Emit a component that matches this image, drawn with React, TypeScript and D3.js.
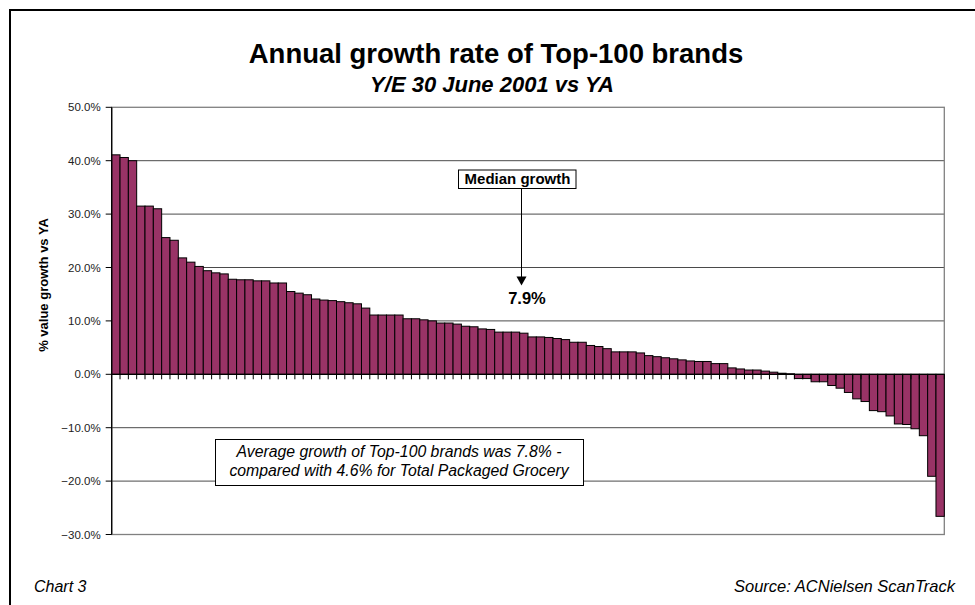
import React from "react";
import * as d3 from "d3";

const brandGrowth: number[] = [
  41.1, 40.6, 40.0, 31.5, 31.5, 31.0, 25.6, 25.1, 21.8, 21.0,
  20.2, 19.4, 19.0, 18.8, 17.8, 17.7, 17.7, 17.5, 17.5, 17.1,
  17.1, 15.5, 15.2, 14.9, 14.1, 13.9, 13.8, 13.6, 13.4, 13.2,
  12.4, 11.1, 11.1, 11.1, 11.1, 10.4, 10.4, 10.2, 10.0, 9.6,
  9.6, 9.4, 9.0, 8.9, 8.5, 8.4, 7.9, 7.9, 7.9, 7.7,
  7.0, 7.0, 6.9, 6.7, 6.5, 6.0, 6.0, 5.4, 5.2, 4.8,
  4.2, 4.2, 4.2, 4.0, 3.5, 3.3, 3.1, 2.9, 2.7, 2.5,
  2.4, 2.4, 2.0, 2.0, 1.2, 1.0, 0.8, 0.8, 0.6, 0.4,
  0.2, 0.1, -0.8, -0.8, -1.4, -1.4, -2.1, -2.6, -3.4, -4.6,
  -5.1, -6.8, -7.0, -7.8, -9.3, -9.4, -10.2, -11.5, -19.1, -26.6,
];
const brandIds: number[] = brandGrowth.map((_, i) => i + 1);
const yTicks: number[] = [-30, -20, -10, 0, 10, 20, 30, 40, 50];

const titleText = "Annual growth rate of Top-100 brands";
const subtitleText = "Y/E 30 June 2001 vs YA";
const yAxisLabel = "% value growth vs YA";
const medianLabel = "Median growth";
const medianValue = "7.9%";
const avgLine1 = "Average growth of Top-100 brands was 7.8% -";
const avgLine2 = "compared with 4.6% for Total Packaged Grocery";
const chartNo = "Chart 3";
const sourceText = "Source: ACNielsen ScanTrack";

const FONT = "'Liberation Sans', Arial, Helvetica, sans-serif";

export default function App() {
  const W = 975;
  const H = 605;
  const left = 111.7;
  const right = 944.3;
  const top = 107.3;
  const bottom = 534.5;

  const x = d3.scaleBand<number>().domain(brandIds).range([left, right]).padding(0);
  const y = d3.scaleLinear().domain([-30, 50]).range([bottom, top]);
  const bw = x.bandwidth();
  const y0 = y(0);

  return (
    <svg
      width={W}
      height={H}
      style={{ position: "absolute", left: 0, top: 0, background: "#fff" }}
      fontFamily={FONT}
    >
      <rect x={0} y={0} width={W} height={H} fill="#fff" />
      {/* outer frame */}
      <rect x={10} y={10} width={1100} height={800} fill="none" stroke="#000" strokeWidth={2} />

      {/* titles */}
      <text x={496} y={63} textAnchor="middle" fontSize={27.5} fontWeight="bold" fill="#000">
        {titleText}
      </text>
      <text x={492} y={92} textAnchor="middle" fontSize={22} fontWeight="bold" fontStyle="italic" fill="#000">
        {subtitleText}
      </text>

      {/* gridlines */}
      {yTicks
        .filter((t) => t !== 0 && t !== -30 && t !== 50)
        .map((t) => (
          <line key={"g" + t} x1={left} x2={right} y1={y(t)} y2={y(t)} stroke="#4a4a4a" strokeWidth={1} />
        ))}
      {/* plot border */}
      <rect x={left} y={top} width={right - left} height={bottom - top} fill="none" stroke="#808080" strokeWidth={1.3} />

      {/* bars */}
      {brandGrowth.map((v, i) => {
        const xi = x(brandIds[i]) as number;
        const yt = y(Math.max(0, v));
        const yb = y(Math.min(0, v));
        return (
          <rect
            key={"b" + i}
            x={xi}
            y={yt}
            width={bw}
            height={Math.max(0.5, yb - yt)}
            fill="#993366"
            stroke="#000"
            strokeWidth={1}
          />
        );
      })}

      {/* category ticks */}
      {brandIds.map((id) => (
        <line
          key={"ct" + id}
          x1={(x(id) as number) + bw}
          x2={(x(id) as number) + bw}
          y1={y0}
          y2={y0 + 5}
          stroke="#000"
          strokeWidth={1}
        />
      ))}
      {/* zero axis line */}
      <line x1={left} x2={right} y1={y0} y2={y0} stroke="#000" strokeWidth={1.2} />

      {/* y axis */}
      <line x1={left} x2={left} y1={top} y2={bottom} stroke="#000" strokeWidth={1.3} />
      {yTicks.map((t) => (
        <g key={"yt" + t}>
          <line x1={left - 6} x2={left} y1={y(t)} y2={y(t)} stroke="#000" strokeWidth={1} />
          <text x={left - 11} y={y(t) + 4} textAnchor="end" fontSize={11.5} fill="#222">
            {d3.format(".1f")(t) + "%"}
          </text>
        </g>
      ))}
      <text
        transform={`translate(48,285) rotate(-90)`}
        textAnchor="middle"
        fontSize={13}
        fontWeight="bold"
        fill="#000"
      >
        {yAxisLabel}
      </text>

      {/* median annotation */}
      <rect x={458.5} y={170} width={117.5} height={18.5} fill="#fff" stroke="#000" strokeWidth={1} />
      <text x={517.5} y={184} textAnchor="middle" fontSize={15} fontWeight="bold" fill="#000">
        {medianLabel}
      </text>
      <line x1={521.5} x2={521.5} y1={188.5} y2={278} stroke="#000" strokeWidth={1} />
      <path d={`M${521.5 - 5},276.5 L${521.5 + 5},276.5 L521.5,285.5 Z`} fill="#000" />
      <text x={527} y={304} textAnchor="middle" fontSize={16.5} fontWeight="bold" fill="#000">
        {medianValue}
      </text>

      {/* average box */}
      <rect x={215.5} y={439.5} width={368} height={46} fill="#fff" stroke="#000" strokeWidth={1} />
      <text x={399} y={457} textAnchor="middle" fontSize={15.8} fontStyle="italic" fill="#000">
        {avgLine1}
      </text>
      <text x={399} y={476} textAnchor="middle" fontSize={15.8} fontStyle="italic" fill="#000">
        {avgLine2}
      </text>

      {/* footer */}
      <text x={34} y={592} fontSize={16} fontStyle="italic" fill="#000">
        {chartNo}
      </text>
      <text x={955} y={592} textAnchor="end" fontSize={16.5} fontStyle="italic" fill="#000">
        {sourceText}
      </text>
    </svg>
  );
}
